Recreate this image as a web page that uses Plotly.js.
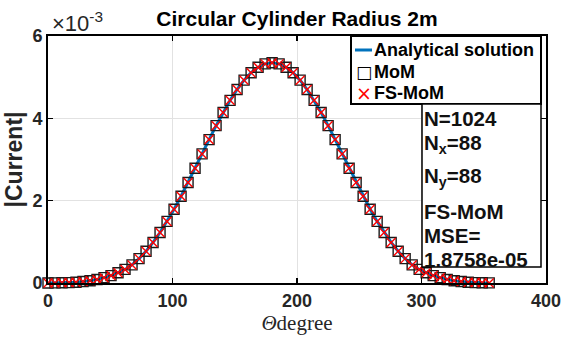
<!DOCTYPE html>
<html><head><meta charset="utf-8">
<script src="https://cdn.plot.ly/plotly-3.0.1.min.js"></script>
<style>html,body{margin:0;padding:0;background:#fff}#chart{width:563px;height:340px}</style>
</head><body><div id="chart"></div>
<script>
// Angle samples (degrees)
const thetaDeg = [0, 5.625, 11.25, 16.875, 22.5, 28.125, 33.75, 39.375, 45, 50.625, 56.25, 61.875, 67.5, 73.125, 78.75, 84.375,
  90, 95.625, 101.25, 106.875, 112.5, 118.125, 123.75, 129.375, 135, 140.625, 146.25, 151.875, 157.5, 163.125, 168.75, 174.375,
  180, 185.625, 191.25, 196.875, 202.5, 208.125, 213.75, 219.375, 225, 230.625, 236.25, 241.875, 247.5, 253.125, 258.75, 264.375,
  270, 275.625, 281.25, 286.875, 292.5, 298.125, 303.75, 309.375, 315, 320.625, 326.25, 331.875, 337.5, 343.125, 348.75, 354.375];
// |Current| values in units of 1e-3
const analyticalCurrent = [0.000, 0.002, 0.005, 0.010, 0.020, 0.035, 0.055, 0.085, 0.130, 0.180, 0.250, 0.330, 0.440, 0.592, 0.773, 0.985,
  1.226, 1.496, 1.791, 2.108, 2.442, 2.786, 3.136, 3.484, 3.822, 4.141, 4.437, 4.701, 4.927, 5.108, 5.241, 5.323,
  5.350, 5.323, 5.241, 5.108, 4.927, 4.701, 4.437, 4.141, 3.822, 3.484, 3.136, 2.786, 2.442, 2.108, 1.791, 1.496,
  1.226, 0.985, 0.773, 0.592, 0.440, 0.330, 0.250, 0.180, 0.130, 0.085, 0.055, 0.035, 0.020, 0.010, 0.005, 0.002];
const momCurrent = [0.000, 0.002, 0.005, 0.010, 0.020, 0.035, 0.055, 0.085, 0.130, 0.180, 0.250, 0.330, 0.440, 0.592, 0.773, 0.985,
  1.226, 1.496, 1.791, 2.108, 2.442, 2.786, 3.136, 3.484, 3.822, 4.141, 4.437, 4.701, 4.927, 5.108, 5.241, 5.323,
  5.350, 5.323, 5.241, 5.108, 4.927, 4.701, 4.437, 4.141, 3.822, 3.484, 3.136, 2.786, 2.442, 2.108, 1.791, 1.496,
  1.226, 0.985, 0.773, 0.592, 0.440, 0.330, 0.250, 0.180, 0.130, 0.085, 0.055, 0.035, 0.020, 0.010, 0.005, 0.002];
const fsMomCurrent = [0.000, 0.002, 0.005, 0.010, 0.020, 0.035, 0.055, 0.085, 0.130, 0.180, 0.250, 0.330, 0.440, 0.592, 0.773, 0.985,
  1.226, 1.496, 1.791, 2.108, 2.442, 2.786, 3.136, 3.484, 3.822, 4.141, 4.437, 4.701, 4.927, 5.108, 5.241, 5.323,
  5.350, 5.323, 5.241, 5.108, 4.927, 4.701, 4.437, 4.141, 3.822, 3.484, 3.136, 2.786, 2.442, 2.108, 1.791, 1.496,
  1.226, 0.985, 0.773, 0.592, 0.440, 0.330, 0.250, 0.180, 0.130, 0.085, 0.055, 0.035, 0.020, 0.010, 0.005, 0.002];
const seriesNames = ['Analytical solution', 'MoM', 'FS-MoM'];
const xTicks = [0, 100, 200, 300, 400];
const yTicks = [0, 2, 4, 6];
const infoLines = ['N=1024', 'N<sub>x</sub>=88', 'N<sub>y</sub>=88', 'FS-MoM', 'MSE=', '1.8758e-05'];
const chartTitle = 'Circular Cylinder Radius 2m';
const xTitle = '<i>Θ</i>degree';
const yTitle = '|Current|';
const exponentLabel = '×10<sup>-3</sup>';

// plot-area pixel geometry
const W = 563, H = 340, L = 48, R = 546, T = 36, B = 283;
const px = x => (x - L) / (R - L);
const py = y => (B - y) / (B - T);

const sans = 'Liberation Sans, Arial, Helvetica, sans-serif';
const tickFont = {family: sans, size: 18, weight: 'bold', color: '#262626'};

const traces = [
  {x: thetaDeg, y: analyticalCurrent, name: seriesNames[0], type: 'scatter', mode: 'lines', showlegend: false,
   line: {color: '#0072BD', width: 3}},
  {x: thetaDeg, y: momCurrent, name: seriesNames[1], type: 'scatter', mode: 'markers', cliponaxis: false, showlegend: false,
   marker: {symbol: 'square-open', size: 10, color: '#1a1a1a', line: {width: 1.4}}},
  {x: thetaDeg, y: fsMomCurrent, name: seriesNames[2], type: 'scatter', mode: 'markers', cliponaxis: false, showlegend: false,
   marker: {symbol: 'x-thin-open', size: 9, color: '#ff0000', line: {width: 1.4, color: '#ff0000'}}}
];

const axisCommon = {
  showline: true, linecolor: '#000', linewidth: 2, mirror: 'ticks',
  ticks: 'inside', ticklen: 5, tickwidth: 1.5, tickcolor: '#000',
  showgrid: true, gridcolor: '#e2e2e2', gridwidth: 1, zeroline: false,
  tickfont: tickFont
};

// legend box geometry (pixels)
const LG = {x0: 351, x1: 541, y0: 36, y1: 104, rows: [50, 72, 93], symX: 364, textX: 375};

const annotations = [
  {xref: 'paper', yref: 'paper', x: px(50), y: py(22), xanchor: 'left', yanchor: 'middle',
   text: exponentLabel, showarrow: false, font: {family: sans, size: 22, color: '#262626'}}
];
const infoY = [119, 144, 177, 211, 235, 259];
infoLines.forEach((t, i) => annotations.push({
  xref: 'paper', yref: 'paper', x: px(422), y: py(infoY[i]), xanchor: 'left', yanchor: 'middle',
  text: t, showarrow: false, font: {family: sans, size: 20.5, weight: 'bold', color: '#111'}
}));
seriesNames.forEach((t, i) => annotations.push({
  xref: 'paper', yref: 'paper', x: px(LG.textX - 3), y: py(LG.rows[i]), xanchor: 'left', yanchor: 'middle',
  text: t, showarrow: false, font: {family: sans, size: 18, weight: 'bold', color: '#000'}
}));
annotations.push({xref: 'paper', yref: 'paper', x: px(LG.symX), y: py(LG.rows[1]), xanchor: 'center', yanchor: 'middle',
  text: '□', showarrow: false, font: {family: 'DejaVu Sans, sans-serif', size: 17, color: '#000'}});
annotations.push({xref: 'paper', yref: 'paper', x: px(LG.symX), y: py(LG.rows[2]), xanchor: 'center', yanchor: 'middle',
  text: '×', showarrow: false, font: {family: 'DejaVu Sans, sans-serif', size: 19, color: '#ff0000'}});

const layout = {
  width: W, height: H,
  margin: {l: L, r: W - R, t: T, b: H - B, pad: 0},
  paper_bgcolor: '#fff', plot_bgcolor: '#fff',
  title: {text: chartTitle, x: px(297), xref: 'paper', xanchor: 'center', y: 1 - 19 / H, yanchor: 'middle',
          font: {family: sans, size: 21, weight: 'bold', color: '#000'}},
  xaxis: Object.assign({}, axisCommon, {range: [0, 400], tickvals: xTicks, ticktext: xTicks.map(String),
    title: {text: xTitle, font: {family: 'Liberation Serif, Times New Roman, serif', size: 21, color: '#262626'}, standoff: 6}}),
  yaxis: Object.assign({}, axisCommon, {range: [0, 6], tickvals: yTicks, ticktext: yTicks.map(String),
    title: {text: yTitle, font: {family: sans, size: 23, weight: 'bold', color: '#262626'}, standoff: 3}}),
  shapes: [
    {type: 'rect', xref: 'paper', yref: 'paper', x0: px(LG.x0), x1: px(LG.x1), y0: py(LG.y1), y1: py(LG.y0),
     fillcolor: '#fff', line: {color: '#000', width: 2}, layer: 'above'},
    {type: 'line', xref: 'paper', yref: 'paper', x0: px(355), x1: px(372), y0: py(LG.rows[0]), y1: py(LG.rows[0]),
     line: {color: '#0072BD', width: 3}, layer: 'above'},
    {type: 'rect', xref: 'paper', yref: 'paper', x0: px(422), x1: px(541), y0: py(267), y1: py(104),
     fillcolor: '#fff', line: {color: '#000', width: 1.5}, layer: 'above'}
  ],
  annotations: annotations,
  showlegend: false
};

Plotly.newPlot('chart', traces, layout, {displayModeBar: false, staticPlot: true});
</script>
</body></html>
